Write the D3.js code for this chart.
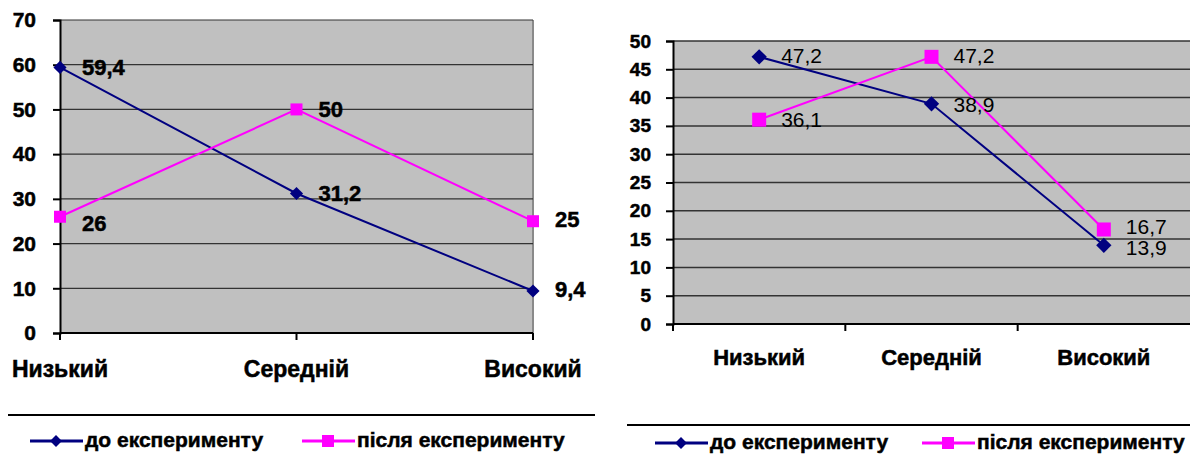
<!DOCTYPE html>
<html>
<head>
<meta charset="utf-8">
<script src="https://cdn.jsdelivr.net/npm/d3@7"></script>
<style>
  body { margin: 0; background: #fff; }
  svg { display: block; font-family: "Liberation Sans", Arial, sans-serif; }
</style>
</head>
<body>
<div id="chart"></div>
<script>
const categories = ["Низький", "Середній", "Високий"]
const seriesNames = ["до експерименту", "після експерименту"]

// left chart
const beforeA = [59.4, 31.2, 9.4]
const afterA = [26, 50, 25]
const ticksA = [0, 10, 20, 30, 40, 50, 60, 70]

// right chart
const beforeB = [47.2, 38.9, 13.9]
const afterB = [36.1, 47.2, 16.7]
const ticksB = [0, 5, 10, 15, 20, 25, 30, 35, 40, 45, 50]

const colors = ["#000080", "#ff00ff"]

const svg = d3.select("#chart").append("svg")
    .attr("width", 1190)
    .attr("height", 454)

const fmt = v => String(v).replace(".", ",")
const FONT = '"Liberation Sans", Arial, sans-serif'

// heavy bold like the old office charts
function heavy(sel) {
    sel.style("font-weight", "bold")
        .attr("stroke", "#000").attr("stroke-width", 0.5)
}

function drawChart(cfg) {
    const g = svg.append("g")

    const y = d3.scaleLinear().domain([0, cfg.max]).range([cfg.bottom, cfg.top])
    let x
    if (cfg.onAxis) {
        x = d3.scalePoint().domain(categories).range([cfg.left, cfg.right])
    } else {
        x = d3.scalePoint().domain(categories).range([cfg.left, cfg.right]).padding(0.5)
    }

    g.append("rect")
        .attr("x", cfg.left).attr("y", cfg.top)
        .attr("width", cfg.right - cfg.left).attr("height", cfg.bottom - cfg.top)
        .attr("fill", "#c0c0c0")
    if (cfg.onAxis) {
        g.append("line")
            .attr("x1", cfg.right).attr("x2", cfg.right)
            .attr("y1", cfg.top).attr("y2", cfg.bottom)
            .attr("stroke", "#8a8a8a").attr("stroke-width", 2)
    }

    // gridlines
    g.selectAll(".grid").data(cfg.ticks.filter(t => t > 0))
        .join("line")
        .attr("x1", cfg.left).attr("x2", cfg.right)
        .attr("y1", d => y(d)).attr("y2", d => y(d))
        .attr("stroke", "#333").attr("stroke-width", cfg.gridW)

    // y axis
    const yAxis = d3.axisLeft(y).tickValues(cfg.ticks).tickSize(7).tickFormat(d => d)
    const ya = g.append("g")
        .attr("transform", `translate(${cfg.left},0)`)
        .call(yAxis)
        .attr("font-family", FONT)
        .attr("font-size", cfg.tickFont)
    ya.select(".domain").attr("stroke", "#000").attr("stroke-width", 2)
    ya.selectAll(".tick line").attr("stroke", "#000").attr("stroke-width", 2)
    ya.selectAll(".tick text")
        .attr("x", -(cfg.labelGap))
        .attr("fill", "#000")
        .call(heavy)

    // x axis
    const xa = g.append("g").attr("transform", `translate(0,${cfg.bottom})`)
    xa.append("line")
        .attr("x1", cfg.left).attr("x2", cfg.right)
        .attr("stroke", "#000").attr("stroke-width", 2)
    let boundaries
    if (cfg.onAxis) {
        boundaries = categories.map(c => x(c))
    } else {
        const step = x.step()
        boundaries = categories.map(c => x(c) - step / 2)
    }
    xa.selectAll(".xt").data(boundaries).join("line")
        .attr("x1", d => d).attr("x2", d => d)
        .attr("y1", 0).attr("y2", 7)
        .attr("stroke", "#000").attr("stroke-width", 2)
    xa.selectAll(".xl").data(categories).join("text")
        .attr("x", d => x(d))
        .attr("y", cfg.catY - cfg.bottom)
        .attr("text-anchor", "middle")
        .attr("dominant-baseline", "middle")
        .style("font-size", cfg.catFont + "px")
        .text(d => d)
        .call(heavy)

    // lines
    const line = d3.line().x((d, i) => x(categories[i])).y(d => y(d))
    const series = [cfg.before, cfg.after]
    series.forEach((vals, si) => {
        g.append("path")
            .datum(vals)
            .attr("d", line)
            .attr("fill", "none")
            .attr("stroke", colors[si])
            .attr("stroke-width", 2)
    })

    // markers
    g.selectAll(".dia").data(cfg.before).join("path")
        .attr("d", d3.symbol(d3.symbolDiamond2, cfg.diamond))
        .attr("transform", (d, i) => `translate(${x(categories[i])},${y(d)})`)
        .attr("fill", colors[0])
    g.selectAll(".sq").data(cfg.after).join("rect")
        .attr("x", (d, i) => x(categories[i]) - cfg.square / 2)
        .attr("y", d => y(d) - cfg.square / 2)
        .attr("width", cfg.square).attr("height", cfg.square)
        .attr("fill", colors[1])

    // value labels
    series.forEach((vals, si) => {
        const t = g.selectAll(".lab" + si).data(vals).join("text")
            .attr("x", (d, i) => x(categories[i]) + cfg.labDx)
            .attr("y", (d, i) => y(d) + cfg.labDy[si][i])
            .attr("dominant-baseline", "middle")
            .style("font-size", cfg.labFont + "px")
            .text(d => fmt(d))
        if (cfg.labBold) t.call(heavy)
    })

    // legend
    g.append("line")
        .attr("x1", cfg.legLine[0]).attr("x2", cfg.legLine[1])
        .attr("y1", cfg.legLineY).attr("y2", cfg.legLineY)
        .attr("stroke", "#000").attr("stroke-width", 2)
    cfg.legX.forEach((lx, si) => {
        const lg = g.append("g").attr("transform", `translate(${lx},${cfg.legY})`)
        lg.append("line").attr("x1", 0).attr("x2", 53)
            .attr("stroke", colors[si]).attr("stroke-width", 3)
        if (si === 0) {
            lg.append("path").attr("d", d3.symbol(d3.symbolDiamond2, 90))
                .attr("transform", "translate(26,0)").attr("fill", colors[0])
        } else {
            lg.append("rect").attr("x", 20).attr("y", -6).attr("width", 12).attr("height", 12)
                .attr("fill", colors[1])
        }
        lg.append("text").attr("x", 55)
            .attr("dominant-baseline", "middle")
            .style("font-size", cfg.legFont + "px")
            .text(seriesNames[si])
            .call(heavy)
    })
}

drawChart({
    before: beforeA, after: afterA, ticks: ticksA, max: 70,
    left: 60, right: 533, top: 20, bottom: 333, onAxis: true,
    gridW: 1.2, tickFont: 21, labelGap: 24, catY: 371, catFont: 23,
    diamond: 110, square: 12,
    labDx: 22, labDy: [[2, 2, 0], [8, 2, 0]], labFont: 22, labBold: true,
    legLine: [8, 595], legLineY: 415, legY: 441, legX: [30, 302], legFont: 21
})

drawChart({
    before: beforeB, after: afterB, ticks: ticksB, max: 50,
    left: 673, right: 1190, top: 41, bottom: 324, onAxis: false,
    gridW: 1.5, tickFont: 19, labelGap: 22, catY: 359, catFont: 22,
    diamond: 150, square: 14,
    labDx: 22, labDy: [[1, 3, 4], [2, 1, -1]], labFont: 21, labBold: false,
    legLine: [627, 1190], legLineY: 425, legY: 443, legX: [655, 922], legFont: 21
})
</script>
</body>
</html>
